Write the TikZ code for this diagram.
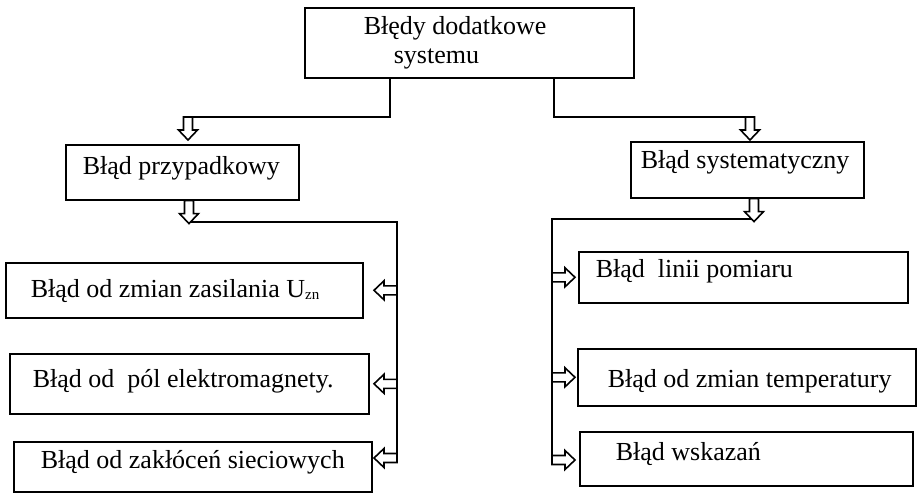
\documentclass[tikz,border=0pt]{standalone}
\usepackage{fontspec}
\setmainfont{Liberation Serif}
\begin{document}
\begin{tikzpicture}[x=1pt,y=-1pt,
  box/.style={draw, line width=1.6pt, inner sep=0pt, anchor=north west,
    font=\fontsize{26}{29}\selectfont},
  conn/.style={line width=1.4pt},
  barrow/.pic={\draw[line width=1.6pt, fill=white, line join=miter]
    (0,-4.5) -- (13,-4.5) -- (13,-9.5) -- (23,0) -- (13,9.5) -- (13,4.5) -- (0,4.5) -- cycle;}
]
\useasboundingbox (0,0) rectangle (918,493);

% boxes
\node[box, minimum width=329pt, text height=56pt, text depth=14pt] (top) at (304,7)
  {\makebox[329pt][l]{\hspace*{59pt}\parbox[b]{260pt}{Błędy dodatkowe\\\hspace*{30pt}systemu}}};
\node[box, minimum width=233pt, text height=30pt, text depth=25pt] (p) at (65,144)
  {\makebox[233pt][l]{\hspace*{17pt}Błąd przypadkowy}};
\node[box, minimum width=233pt, text height=27pt, text depth=29pt] (s) at (630,141)
  {\makebox[233pt][l]{\hspace*{10pt}Błąd systematyczny}};
\node[box, minimum width=357pt, text height=35pt, text depth=20pt] (l1) at (5,262)
  {\makebox[357pt][l]{\hspace*{25pt}Błąd od zmian zasilania U\raisebox{-2pt}{\fontsize{15}{15}\selectfont zn}}};
\node[box, minimum width=359pt, text height=34pt, text depth=26pt] (l2) at (9,353)
  {\makebox[359pt][l]{\hspace*{23pt}Błąd od~~pól elektromagnety.}};
\node[box, minimum width=358pt, text height=27pt, text depth=23pt] (l3) at (13,441)
  {\makebox[358pt][l]{\hspace*{27pt}Błąd od zakłóceń sieciowych}};
\node[box, minimum width=329pt, text height=26pt, text depth=25pt] (r1) at (578,251)
  {\makebox[329pt][l]{\hspace*{17pt}Błąd~~linii pomiaru}};
\node[box, minimum width=338pt, text height=39pt, text depth=18pt] (r2) at (577,348)
  {\makebox[338pt][l]{\hspace*{30pt}Błąd od zmian temperatury}};
\node[box, minimum width=333pt, text height=29pt, text depth=25pt] (r3) at (579,431)
  {\makebox[333pt][l]{\hspace*{36pt}Błąd wskazań}};

% coordinates
\coordinate (t1) at (390,117);
\coordinate (a1) at (188,117);
\coordinate (t2) at (554,117);
\coordinate (a2) at (750,117);
\coordinate (a3) at (189,222);
\coordinate (b1) at (397,222);
\coordinate (b2) at (397,458);
\coordinate (a4) at (754,219);
\coordinate (c1) at (552,219);
\coordinate (c2) at (552,460);

% connectors
\draw[conn] (t1 |- top.south) -- (t1) -- (a1);
\draw[conn] (t2 |- top.south) -- (t2) -- (a2);
\draw[conn] (a3) -- (b1) -- (b2);
\draw[conn] (a4) -- (c1) -- (c2);

% hollow arrows
\pic[rotate=-90] at (a1) {barrow};
\pic[rotate=-90] at (a2) {barrow};
\pic[rotate=-90] at (a3 |- p.south) {barrow};
\pic[rotate=-90] at (a4 |- s.south) {barrow};
\pic[rotate=180] at (b1 |- l1.west) {barrow};
\pic[rotate=180] at (b1 |- l2.west) {barrow};
\pic[rotate=180] at (b2) {barrow};
\pic at (c1 |- r1.west) {barrow};
\pic at (c1 |- r2.west) {barrow};
\pic at (c2) {barrow};
\end{tikzpicture}
\end{document}
